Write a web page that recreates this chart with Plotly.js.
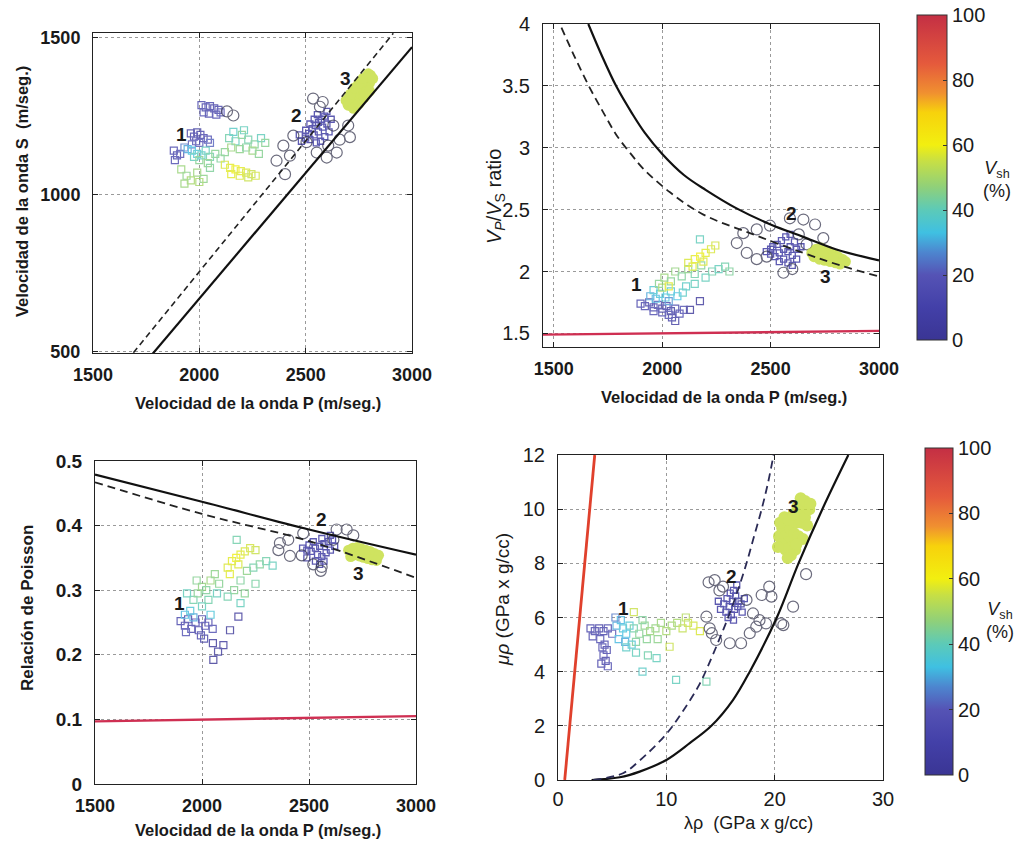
<!DOCTYPE html>
<html>
<head>
<meta charset="utf-8">
<script src="https://cdn.plot.ly/plotly-3.0.1.min.js"></script>
<style>html,body{margin:0;padding:0;background:#fff;}#chart{width:1022px;height:844px;}</style>
</head>
<body>
<div id="chart"></div>
<script>
// ---------------- DATA ----------------
const G2_VSH = 8;    // Vsh of dense group-2 core
const G3_VSH = 55;   // Vsh of group 3

// Panel 1: Vs vs Vp
const p1_g1_x = [2010,2030,2050,2070,2090,2020,2045,2080,2100, 1960,1975,1990,2005,2020,2040,1985,2000,1965,2050, 1880,1895,1885,1910,1930, 1945,1965,1990,2010,2030,2050,2075,2100,2120,1975,2000,2040, 2140,2170,2200,2230,2260,2290,2310,2150,2190,2220,2250,2280,2160,2210, 2120,2145,2170,2195,2220,2245,2265,2150,2190,2230, 1915,1940,1960,1990,2020,2050,1930,2000];
const p1_g1_y = [1285,1278,1282,1275,1270,1262,1258,1255,1262, 1195,1185,1198,1190,1180,1175,1170,1165,1160,1165, 1140,1125,1110,1130,1150, 1145,1140,1130,1125,1140,1120,1130,1115,1135,1120,1110,1100, 1180,1170,1190,1175,1160,1180,1165,1150,1145,1150,1140,1130,1200,1205, 1095,1085,1080,1075,1070,1065,1060,1065,1060,1055, 1080,1060,1045,1070,1050,1085,1035,1040];
const p1_g1_vsh = [12,10,12,8,10,14,10,12,15, 8,10,6,10,12,15,12,18,20,22, 12,10,14,16,25, 30,33,36,38,40,42,45,44,45,40,45,46, 42,40,45,42,44,40,45,48,46,44,48,45,38,40, 57,58,60,58,57,55,56,58,57,55, 48,46,50,48,46,44,48,50];
const p1_g2_x = [2480,2500,2515,2530,2545,2560,2575,2590,2520,2540,2560,2580,2600,2500,2520,2540,2555,2610,2590,2570,2620,2470,2550,2600];
const p1_g2_y = [1170,1180,1195,1210,1220,1230,1240,1250,1175,1190,1200,1215,1225,1205,1225,1240,1255,1200,1185,1170,1240,1190,1165,1265];
const p1_c_x = [2535,2567,2630,2700,2708,2646,2599,2552,2442,2395,2363,2403,2426,2606,2504,2160,2130,2580,2660];
const p1_c_y = [1306,1280,1220,1220,1183,1134,1118,1134,1188,1156,1108,1065,1124,1156,1167,1252,1265,1295,1175];
const p1_g3_x = [2700,2715,2730,2745,2760,2775,2790,2805,2720,2740,2755,2770,2785,2800,2705,2725,2745,2765,2785, 2690,2710,2730,2750,2770,2795,2725,2750,2775,2800,2815];
const p1_g3_y = [1285,1300,1310,1325,1340,1350,1365,1380,1280,1295,1310,1325,1340,1355,1310,1325,1345,1360,1375, 1300,1320,1340,1355,1370,1385,1275,1290,1310,1330,1370];
const p1_solid_x = [1776,3000], p1_solid_y = [489,1470];
const p1_dash_x = [1690,2912], p1_dash_y = [496,1514];

// Panel 2: Vp/Vs vs Vp
const p2_g1_x = [1900,1920,1940,1960,1980,2000,2020,2040,2060,2080,2045,2060,2030,1960,2000,2100, 2128,2174, 1945,1970,1990,2015,2040,2070,2095,1960,2030, 1985,2010,2040,2060,2090,2120,2150,2180,2200,2230,2260,2290,2310,2150,2110,2000, 2120,2150,2175,2200,2225,2245,2140,2190,2030, 2174];
const p2_g1_y = [1.74,1.72,1.75,1.71,1.73,1.70,1.72,1.68,1.70,1.66,1.63,1.60,1.65,1.68,1.67,1.69, 1.69,1.76, 1.80,1.78,1.82,1.79,1.84,1.80,1.83,1.85,1.76, 1.90,1.95,1.92,2.00,1.96,2.02,1.98,2.05,1.95,2.00,2.02,2.04,2.00,1.90,1.88,1.87, 2.07,2.10,2.12,2.15,2.18,2.21,2.04,2.08,1.88, 2.26];
const p2_g1_vsh = [10,12,8,10,12,8,10,6,10,12,8,6,14,15,12,18, 2,3, 30,32,35,34,36,33,38,36,28, 45,48,45,47,44,46,42,45,40,42,40,42,44,40,38,50, 57,58,60,58,57,56,58,57,58, 40];
const p2_g2_x = [2480,2500,2520,2540,2560,2580,2600,2620,2640,2510,2530,2550,2570,2590,2610,2560,2580,2600,2540,2620,2500,2590];
const p2_g2_y = [2.16,2.14,2.12,2.15,2.18,2.16,2.13,2.18,2.20,2.20,2.22,2.25,2.28,2.30,2.24,2.10,2.07,2.05,2.08,2.10,2.18,2.20];
const p2_c_x = [2374,2344,2390,2436,2482,2559,2589,2651,2705,2743,2666,2436,2497,2600,2630];
const p2_c_y = [2.31,2.23,2.15,2.10,2.12,1.99,2.43,2.42,2.38,2.27,2.22,2.34,2.37,2.02,2.30];
const p2_g3_x = [2690,2710,2730,2750,2770,2790,2810,2830,2845,2700,2725,2750,2775,2800,2820,2740,2790];
const p2_g3_y = [2.15,2.18,2.19,2.17,2.16,2.14,2.12,2.10,2.08,2.12,2.10,2.09,2.08,2.07,2.06,2.14,2.11];
const p2_solid_x = [1659,1720,1790,1860,1920,2000,2100,2200,2343,2500,2650,2800,3000];
const p2_solid_y = [4.00,3.75,3.49,3.28,3.12,2.95,2.78,2.66,2.51,2.38,2.28,2.18,2.09];
const p2_dash_x = [1535,1600,1667,1730,1790,1860,1913,2036,2190,2420,2651,2820,3000];
const p2_dash_y = [3.97,3.72,3.48,3.28,3.10,2.94,2.83,2.64,2.46,2.30,2.15,2.05,1.96];
const p2_red_x = [1450,3000], p2_red_y = [1.49,1.52];

// Panel 3: Poisson ratio vs Vp
const p3_g1_x = [1900,1920,1935,1950,1970,1985,2000,2015,2030,2050,1995,2010,1925, 1920,1945,1960,2040, 2051,2100,2053,2131,2170,2075, 1960,1980,2000,2020,2040,2060,2080,2000,2030,2070,1975, 2120,2140,2160,2180,2200,2225,2250,2130,2170, 2150,2180,2210,2240,2270,2300,2330,2200,2250,2120,2180, 1930,2162];
const p3_g1_y = [0.252,0.245,0.255,0.240,0.250,0.238,0.255,0.245,0.250,0.240,0.230,0.225,0.235, 0.262,0.268,0.258,0.262, 0.218,0.215,0.192,0.238,0.259,0.205, 0.285,0.295,0.305,0.300,0.315,0.325,0.310,0.275,0.285,0.295,0.315, 0.335,0.345,0.350,0.355,0.360,0.365,0.362,0.325,0.340, 0.300,0.315,0.330,0.335,0.340,0.345,0.338,0.295,0.310,0.290,0.280, 0.295,0.378];
const p3_g1_vsh = [10,12,8,10,12,8,10,14,12,15,12,8,18, 32,35,30,35, 2,3,0,2,3,5, 42,45,47,44,48,46,45,40,42,40,45, 57,58,60,58,57,56,55,58,57, 45,44,46,42,44,42,40,45,43,42,40, 40,42];
const p3_g2_x = [2470,2490,2510,2530,2550,2570,2590,2610,2500,2520,2540,2560,2580,2600,2620,2530,2550,2570,2490,2560,2600];
const p3_g2_y = [0.365,0.362,0.360,0.365,0.368,0.372,0.375,0.378,0.370,0.375,0.355,0.352,0.358,0.362,0.368,0.345,0.340,0.345,0.350,0.380,0.385];
const p3_c_x = [2364,2357,2403,2411,2466,2473,2559,2629,2676,2707,2614,2555,2520];
const p3_c_y = [0.373,0.362,0.378,0.353,0.354,0.388,0.336,0.394,0.394,0.385,0.378,0.330,0.340];
const p3_g3_x = [2685,2705,2725,2745,2765,2785,2805,2825,2695,2715,2735,2755,2775,2795,2815,2760];
const p3_g3_y = [0.362,0.365,0.366,0.364,0.362,0.360,0.357,0.354,0.352,0.355,0.353,0.351,0.349,0.347,0.346,0.358];
const p3_solid_x = [1500,2000,2500,3000], p3_solid_y = [0.479,0.437,0.394,0.355];
const p3_dash_x = [1500,2000,2500,3000], p3_dash_y = [0.467,0.418,0.376,0.319];
const p3_red_x = [1500,3000], p3_red_y = [0.097,0.105];

// Panel 4: mu*rho vs lambda*rho
const p4_g1_x = [3.0,3.4,3.8,4.2,4.6,3.2,3.9,4.3,4.5,4.2,4.4,4.0,4.6,4.1,5.0, 5.4,5.8,6.0,6.3,6.6,5.6,6.2,5.3, 7.0,7.5,8.0,8.5,9.0,9.5,10.0,10.5,11.0,7.2,8.2,9.2,7.8, 11.5,12.0,12.5,13.1,11.8,10.3,7.0, 6.3,7.2,8.3,9.1,7.8,10.9,13.7,6.8];
const p4_g1_y = [5.6,5.5,5.6,5.5,5.6,5.3,5.2,5.0,4.8,4.6,4.4,4.3,4.2,4.9,5.4, 5.7,5.9,5.6,5.4,5.7,5.2,5.1,6.0, 5.6,5.4,5.7,5.5,5.6,5.8,5.5,5.7,5.8,5.1,5.2,5.2,5.9, 5.6,5.8,5.7,5.5,6.0,4.92,6.2, 4.9,4.7,4.6,4.5,4.0,3.7,3.63,5.0];
const p4_g1_vsh = [10,12,8,10,12,10,14,12,10,12,8,10,14,15,18, 30,32,35,33,36,32,30,25, 42,45,46,48,47,48,50,49,50,44,45,46,44, 54,55,56,57,52,55,55, 38,40,42,40,38,40,42,36];
const p4_g2_x = [15.0,15.3,15.6,15.9,16.2,15.5,15.8,16.1,16.4,16.7,16.0,16.3,16.6,16.9,17.2,15.7,16.2,14.8,16.5,17.0];
const p4_g2_y = [6.3,6.5,6.7,6.9,7.0,6.2,6.4,6.6,6.8,6.6,6.1,6.3,6.4,6.5,6.7,6.0,5.9,6.6,7.2,6.2];
const p4_c_x = [14.46,15.23,13.7,14.0,14.2,14.6,15.85,16.9,17.7,18.0,18.6,19.2,19.7,19.5,20.6,21.7,18.8,17.4,18.3,22.9,20.8,14.9,13.9];
const p4_c_y = [7.38,7.14,6.03,5.6,5.42,5.17,5.05,5.05,5.42,6.15,5.9,5.78,6.77,7.14,5.78,6.4,6.83,6.65,5.66,7.6,5.72,7.0,7.3];
const p4_g3_x = [20.4,20.7,21.0,21.3,21.6,21.9,20.6,21.0,21.4,21.8,22.2,22.0,22.3,22.6,22.9,22.5,21.5,22.8, 20.3,20.5,20.9,21.3,21.7,22.1,22.4,22.8,23.2,23.0,22.6,22.0,21.2,23.3];
const p4_g3_y = [9.0,9.3,9.0,8.8,8.6,8.5,8.7,8.5,9.3,9.1,9.0,9.5,9.8,10.0,10.2,9.5,8.3,9.7, 8.6,9.5,9.7,9.6,9.8,10.1,10.4,10.3,10.0,9.4,8.9,8.7,8.2,10.2];
const p4_solid_x = [3.1,5.7,7.54,10.0,12.16,14.16,16.15,17.7,20.2,22.2,24.4,26.8];
const p4_solid_y = [0.0,0.1,0.31,0.74,1.36,2.0,2.95,4.0,6.0,8.0,10.0,12.0];
const p4_dash_x = [3.26,6.0,7.54,10.0,11.54,13.08,14.16,15.0,15.8,16.6,17.4,18.1,18.8,19.4,19.9];
const p4_dash_y = [0.0,0.25,0.72,1.7,2.55,3.55,4.5,5.3,6.1,7.0,8.0,9.0,10.0,11.0,12.0];
const p4_red_x = [0.62,3.39], p4_red_y = [0,12];

const cbTicks = [0,20,40,60,80,100];

// ---------------- STYLE ----------------
const cs = [[0,'#3a3594'],[0.1,'#4340a8'],[0.2,'#5553b5'],[0.27,'#4d86cf'],[0.33,'#3fc0e2'],[0.4,'#5ccab8'],[0.47,'#8fd07a'],[0.55,'#c7df45'],[0.6,'#f2ef10'],[0.7,'#f7d20c'],[0.76,'#f09030'],[0.85,'#e55a3c'],[1,'#c42f44']];
const FF = 'Liberation Sans, Arial, sans-serif';
const ink = '#1a1a1a';

function sq(x,y,v,xa,ya,cb){
  return {type:'scatter',mode:'markers',x:x,y:y,xaxis:xa,yaxis:ya,hoverinfo:'skip',showlegend:false,opacity:0.8,
    marker:{symbol:'square-open',size:7,color:v,cmin:0,cmax:100,colorscale:cs,line:{width:1.2},showscale:!!cb,colorbar:cb}};
}
function core(x,y,xa,ya){
  return {type:'scatter',mode:'markers',x:x,y:y,xaxis:xa,yaxis:ya,hoverinfo:'skip',showlegend:false,opacity:0.85,
    marker:{symbol:'square-open',size:6,color:x.map(()=>G2_VSH),cmin:0,cmax:100,colorscale:cs,line:{width:1.3}}};
}
function circ(x,y,xa,ya){
  return {type:'scatter',mode:'markers',x:x,y:y,xaxis:xa,yaxis:ya,hoverinfo:'skip',showlegend:false,opacity:0.75,
    marker:{symbol:'circle-open',size:11,color:'#3a3a52',line:{width:1.2}}};
}
function blob(x,y,xa,ya,s){
  return {type:'scatter',mode:'markers',x:x,y:y,xaxis:xa,yaxis:ya,hoverinfo:'skip',showlegend:false,opacity:0.85,
    marker:{symbol:'circle',size:s||11,color:x.map(()=>G3_VSH),cmin:0,cmax:100,colorscale:cs,line:{width:0}}};
}
function ln(x,y,xa,ya,color,width,dash,shape){
  return {type:'scatter',mode:'lines',x:x,y:y,xaxis:xa,yaxis:ya,hoverinfo:'skip',showlegend:false,
    line:{color:color,width:width,dash:dash||'solid',shape:shape||'linear',smoothing:1}};
}

function cbar(x,y,len,th){
  return {x:x,xanchor:'left',xref:'paper',y:y,yanchor:'middle',yref:'paper',len:len,lenmode:'fraction',
    thickness:th,thicknessmode:'pixels',xpad:0,ypad:0,outlinewidth:1,outlinecolor:'#333',
    tickvals:cbTicks,ticks:'inside',ticklen:4,tickcolor:'#333',tickfont:{family:FF,size:20,color:ink},ticklabelstandoff:4};
}

const traces = [
  sq(p1_g1_x,p1_g1_y,p1_g1_vsh,'x','y'),
  core(p1_g2_x,p1_g2_y,'x','y'),
  circ(p1_c_x,p1_c_y,'x','y'),
  blob(p1_g3_x,p1_g3_y,'x','y'),
  ln(p1_solid_x,p1_solid_y,'x','y','#111',2.2),
  ln(p1_dash_x,p1_dash_y,'x','y','#222',1.6,'6px,4px'),

  sq(p2_g1_x,p2_g1_y,p2_g1_vsh,'x2','y2',cbar(917/1022,1-177.5/844,325/844,30)),
  core(p2_g2_x,p2_g2_y,'x2','y2'),
  circ(p2_c_x,p2_c_y,'x2','y2'),
  blob(p2_g3_x,p2_g3_y,'x2','y2'),
  ln(p2_solid_x,p2_solid_y,'x2','y2','#111',2.2,'solid','spline'),
  ln(p2_dash_x,p2_dash_y,'x2','y2','#222',1.8,'8px,5px','spline'),
  ln(p2_red_x,p2_red_y,'x2','y2','#cf2f52',2.4),

  sq(p3_g1_x,p3_g1_y,p3_g1_vsh,'x3','y3'),
  core(p3_g2_x,p3_g2_y,'x3','y3'),
  circ(p3_c_x,p3_c_y,'x3','y3'),
  blob(p3_g3_x,p3_g3_y,'x3','y3'),
  ln(p3_solid_x,p3_solid_y,'x3','y3','#111',2.2,'solid','spline'),
  ln(p3_dash_x,p3_dash_y,'x3','y3','#222',1.8,'8px,5px','spline'),
  ln(p3_red_x,p3_red_y,'x3','y3','#cf2f52',2.4),

  sq(p4_g1_x,p4_g1_y,p4_g1_vsh,'x4','y4',cbar(925/1022,1-611.5/844,327/844,28)),
  core(p4_g2_x,p4_g2_y,'x4','y4'),
  circ(p4_c_x,p4_c_y,'x4','y4'),
  blob(p4_g3_x,p4_g3_y,'x4','y4',12),
  ln(p4_solid_x,p4_solid_y,'x4','y4','#111',2.2,'solid','spline'),
  ln(p4_dash_x,p4_dash_y,'x4','y4','#2a2a55',1.8,'8px,5px','spline'),
  ln(p4_red_x,p4_red_y,'x4','y4','#e0402c',2.8)
];

function ax(domain,range,tickvals,anchor,bold,size,isY,standoff){
  return {domain:domain,range:range,tickvals:tickvals,anchor:anchor,showline:true,linecolor:'#222',linewidth:1,
    mirror:'ticks',ticks:'inside',ticklen:5,tickcolor:'#222',showgrid:true,gridcolor:'#9a9a9a',griddash:'dot',gridwidth:1,
    zeroline:false,fixedrange:true,ticklabelstandoff:(standoff!==undefined?standoff:(isY?8:5)),
    tickfont:{family:FF,size:size,color:ink,weight:bold?'bold':'normal'}};
}

const layout = {
  width:1022,height:844,margin:{l:0,r:0,t:0,b:0},paper_bgcolor:'#fff',plot_bgcolor:'#fff',showlegend:false,
  xaxis: ax([93/1022,412/1022],[1500,3000],[1500,2000,2500,3000],'y',true,18,false),
  yaxis: ax([1-353/844,1-33/844],[495,1515],[500,1000,1500],'x',true,18,true),
  xaxis2: ax([543/1022,879/1022],[1450,3000],[1500,2000,2500,3000],'y2',true,18,false),
  yaxis2: ax([1-347/844,1-24/844],[1.39,4.0],[1.5,2,2.5,3,3.5,4],'x2',false,20,true),
  xaxis3: ax([95/1022,416/1022],[1500,3000],[1500,2000,2500,3000],'y3',true,18,false),
  yaxis3: ax([1-784/844,1-461/844],[0,0.5],[0,0.1,0.2,0.3,0.4,0.5],'x3',true,19,true),
  xaxis4: ax([558/1022,883/1022],[0,30],[0,10,20,30],'y4',false,20,false,1),
  yaxis4: ax([1-780/844,1-455/844],[0,12],[0,2,4,6,8,10,12],'x4',false,20,true),
  annotations: []
};

function pa(x,y,text,size,bold,angle){
  layout.annotations.push({xref:'paper',yref:'paper',x:x/1022,y:1-y/844,text:text,showarrow:false,xanchor:'center',yanchor:'middle',
    textangle:angle||0,font:{family:FF,size:size,color:ink,weight:bold?'bold':'normal'}});
}
pa(258,403,'Velocidad de la onda P (m/seg.)',16.5,true);
pa(22,192,'Velocidad de la onda S  (m/seg.)',16.5,true,-90);
pa(724,397,'Velocidad de la onda P (m/seg.)',16.5,true);
pa(495,197,'<i>V</i><sub><i>P</i></sub>/<i>V</i><sub>S</sub> ratio',20,false,-90);
pa(258,830,'Velocidad de la onda P (m/seg.)',16.5,true);
pa(27,608,'Relación de Poisson',17,true,-90);
pa(748,823,'λρ  (GPa x g/cc)',18,false);
pa(502,600,'<i>μρ</i> (GPa x g/cc)',19,false,-90);
pa(997,180,'<i>V</i><sub>sh</sub><br>(%)',18,false);
pa(1000,620,'<i>V</i><sub>sh</sub><br>(%)',18,false);

function lab(xr,yr,x,y,t){
  layout.annotations.push({xref:xr,yref:yr,x:x,y:y,text:t,showarrow:false,xanchor:'center',yanchor:'middle',
    font:{family:FF,size:19,color:ink,weight:'bold'}});
}
lab('x','y',1918,1190,'1'); lab('x','y',2457,1253,'2'); lab('x','y',2685,1371,'3');
lab('x2','y2',1882,1.895,'1'); lab('x2','y2',2597,2.47,'2'); lab('x2','y2',2751,1.96,'3');
lab('x3','y3',1897,0.280,'1'); lab('x3','y3',2559,0.409,'2'); lab('x3','y3',2730,0.326,'3');
lab('x4','y4',6.0,6.34,'1'); lab('x4','y4',16.0,7.51,'2'); lab('x4','y4',21.7,10.1,'3');

Plotly.newPlot('chart',traces,layout,{staticPlot:true,displayModeBar:false});
</script>
</body>
</html>
